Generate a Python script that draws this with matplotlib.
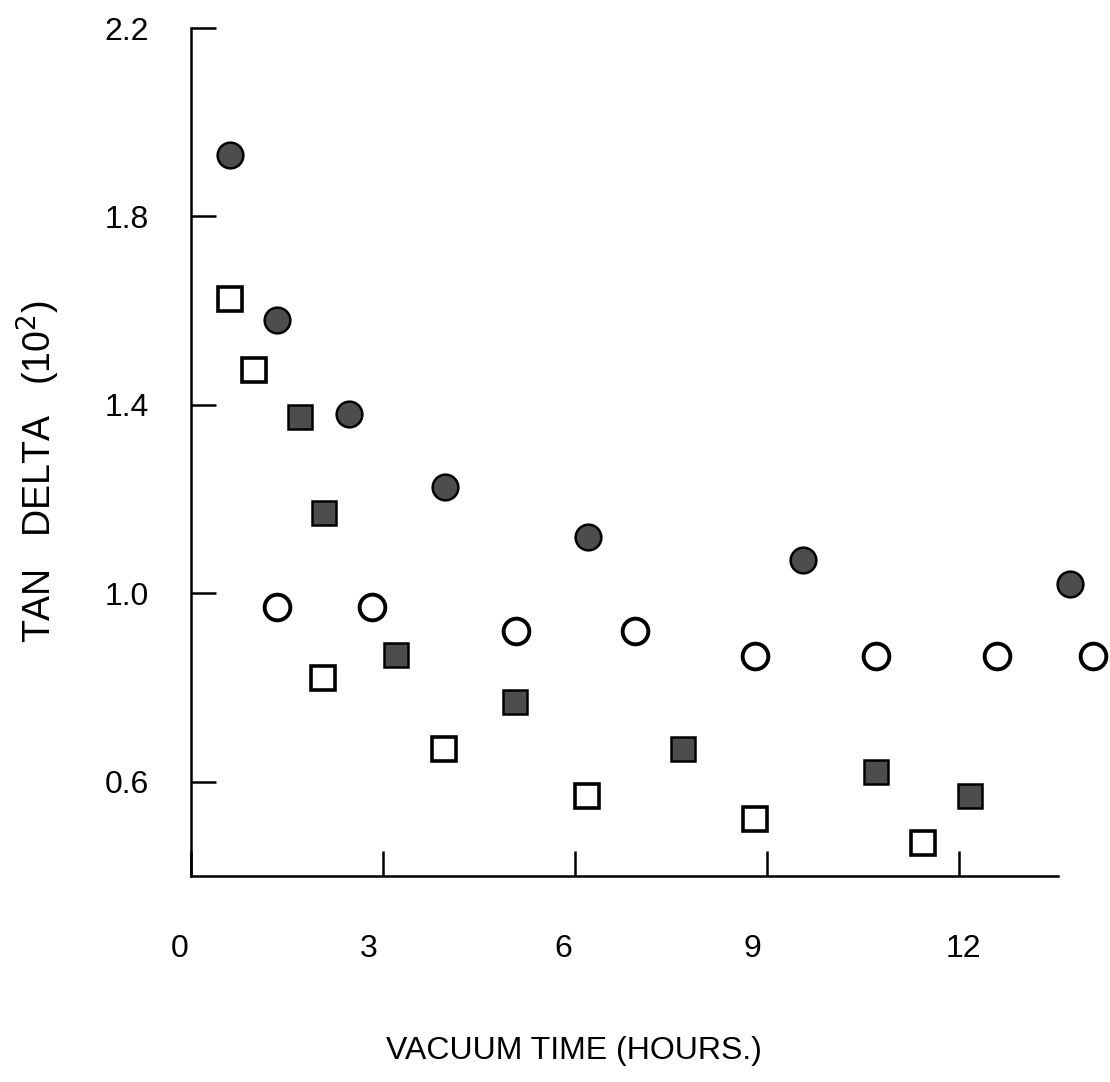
import matplotlib
matplotlib.use('Agg')
import matplotlib.pyplot as plt
import matplotlib.transforms as mtransforms

plt.rcParams['font.family'] = ['Liberation Sans', 'DejaVu Sans']

## data -----
# filled circles
fc_x = [0.61, 1.34, 2.47, 3.97, 6.2, 9.56, 13.73]
fc_y = [1.93, 1.58, 1.38, 1.225, 1.12, 1.07, 1.02]
# open squares
os_x = [0.61, 0.98, 2.06, 3.95, 6.19, 8.81, 11.44]
os_y = [1.625, 1.475, 0.82, 0.67, 0.57, 0.52, 0.47]
# filled squares
fs_x = [1.70, 2.08, 3.2, 5.06, 7.69, 10.7, 12.17]
fs_y = [1.375, 1.17, 0.87, 0.77, 0.67, 0.62, 0.57]
# open circles
oc_x = [1.34, 2.83, 5.08, 6.94, 8.81, 10.7, 12.6, 14.1]
oc_y = [0.97, 0.97, 0.92, 0.92, 0.867, 0.867, 0.867, 0.867]

x_ticks = [0, 3, 6, 9, 12]
x_labels = ['0', '3', '6', '9', '12']
y_ticks = [0.6, 1.0, 1.4, 1.8, 2.2]
y_labels = ['0.6', '1.0', '1.4', '1.8', '2.2']

## figure -----
fig = plt.figure(figsize=(11.1, 10.82), dpi=100)
ax = fig.add_axes([191 / 1110, 206 / 1082, 919 / 1110, 848 / 1082])
ax.set_xlim(0, 919 / 64)
ax.set_ylim(0.4, 2.2)

ms = 18.5
dark = '#4d4d4d'
ax.plot(fc_x, fc_y, 'o', ms=ms, mfc=dark, mec='black', mew=1.8, clip_on=False)
ax.plot(fs_x, fs_y, 's', ms=ms - 1, mfc=dark, mec='black', mew=1.8, clip_on=False)
ax.plot(os_x, os_y, 's', ms=ms - 1, mfc='white', mec='black', mew=2.6, clip_on=False)
ax.plot(oc_x, oc_y, 'o', ms=ms, mfc='white', mec='black', mew=2.8, clip_on=False)

# axes styling
for s in ['top', 'right']:
    ax.spines[s].set_visible(False)
for s in ['left', 'bottom']:
    ax.spines[s].set_linewidth(1.8)
ax.spines['bottom'].set_bounds(0, 13.55)

ax.set_xticks(x_ticks)
ax.set_xticklabels(x_labels)
ax.set_yticks(y_ticks)
ax.set_yticklabels(y_labels)
ax.tick_params(axis='both', direction='in', length=18, width=1.8, labelsize=23)
ax.tick_params(axis='x', pad=42)
ax.tick_params(axis='y', pad=30)

# x labels sit a little off their ticks in the original
for lbl, dx in zip(ax.get_xticklabels(), [-11, -14, -12, -15, 4]):
    shift = mtransforms.ScaledTranslation(dx / 100, 0, fig.dpi_scale_trans)
    lbl.set_transform(lbl.get_transform() + shift)

fig.text(574 / 1110, 1 - 1051 / 1082, 'VACUUM TIME (HOURS.)', fontsize=23,
         ha='center', va='center')
fig.text(38 / 1110, 1 - 472 / 1082, 'TAN   DELTA   (10$^2$)', fontsize=27,
         rotation=90, ha='center', va='center')

fig.savefig('out.png', dpi=100, facecolor='white')
